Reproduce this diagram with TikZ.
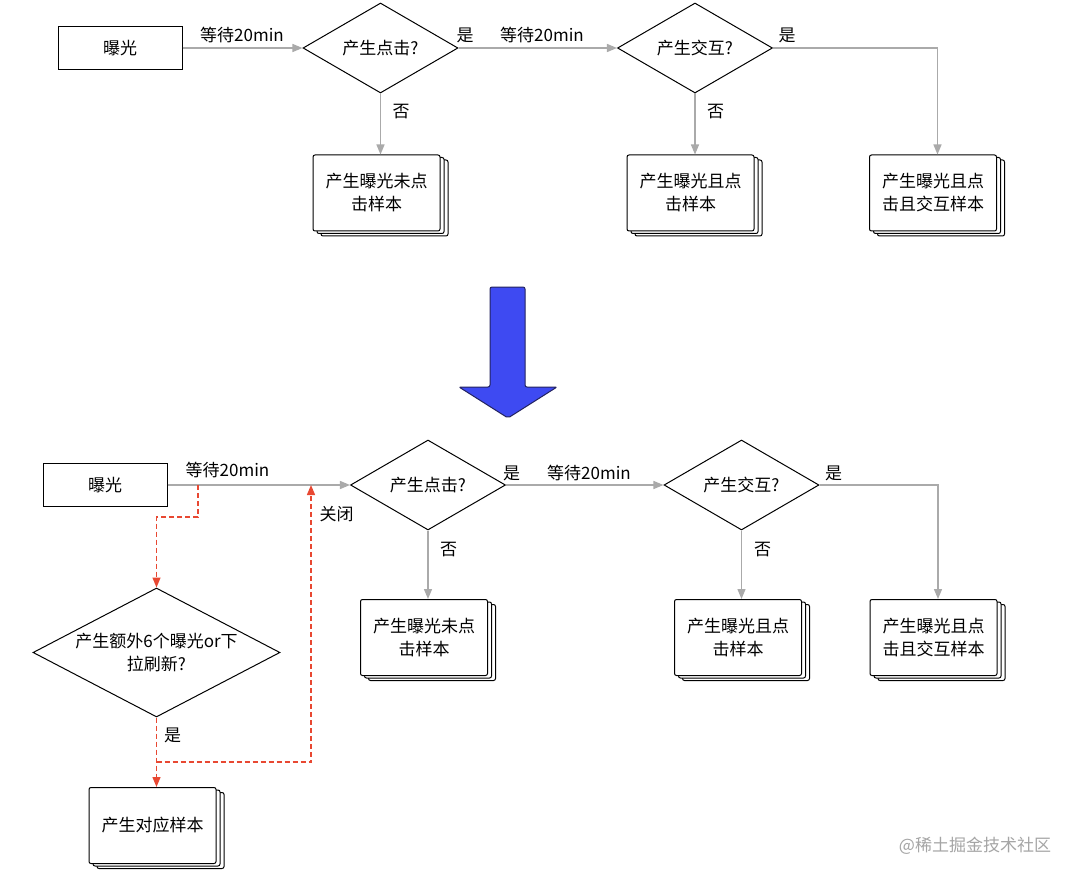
\documentclass[tikz,border=0pt]{standalone}
\usepackage{fontspec}
\setmainfont{Noto Sans CJK SC}
\usetikzlibrary{shapes.geometric,shadows,arrows.meta,positioning}
\definecolor{edgegray}{RGB}{170,170,170}
\definecolor{dashred}{RGB}{232,72,50}
\definecolor{arrowblue}{RGB}{62,74,242}
\definecolor{arrowedge}{RGB}{35,35,95}
\definecolor{markgray}{RGB}{165,165,165}

\begin{document}
\begin{tikzpicture}[x=1pt,y=-1pt,font=\fontsize{17}{23}\selectfont]
\tikzstyle{start}=[rectangle,draw=black,line width=1pt,minimum width=124pt,minimum height=43pt,inner sep=0pt]
\tikzstyle{decision}=[diamond,draw=black,line width=1pt,inner sep=0pt,aspect=1.72,minimum width=155pt,minimum height=90pt,align=center]
\tikzstyle{sample}=[rectangle,draw=black,fill=white,line width=1pt,rounded corners=2pt,minimum width=127pt,minimum height=76pt,align=center,double copy shadow={shadow xshift=4pt,shadow yshift=-2.5pt,draw=black,fill=white}]
\tikzstyle{flow}=[draw=edgegray,line width=1.3pt,-{Triangle[length=10pt,width=8pt]}]
\tikzstyle{extra}=[draw=dashred,line width=1.3pt,dash pattern=on 5pt off 3pt,-{Triangle[length=10pt,width=8pt]}]
\tikzstyle{lbl}=[inner sep=1pt]

\fill[white] (0,0) rectangle (1080,880);
\useasboundingbox (0,0) rectangle (1080,880);

% before
\node [start] (0) at(120,48) {曝光};
\node [decision] (1) at(380.5,48) {产生点击?};
\node [decision] (2) at(695,48) {产生交互?};
\node [sample] (3) at(376.5,193) {产生曝光未点\\击样本};
\node [sample] (4) at(690.5,193) {产生曝光且点\\击样本};
\node [sample] (5) at(933,193) {产生曝光且点\\击且交互样本};

\path [flow] (0) -- (1);
\path [flow] (1) -- (2);
\path [flow] (1.south) -- (1.south |- 3.north);
\path [flow] (2.south) -- (2.south |- 4.north);
\path [flow] (2.east) -| ([xshift=4.5pt]5.north);

\node [lbl] (t0) at(242,35) {等待20min};
\node [lbl] (t1) at(465,35) {是};
\node [lbl] (t2) at(542,35) {等待20min};
\node [lbl] (t3) at(787,35) {是};
\node [lbl] (t4) at(401,112) {否};
\node [lbl] (t5) at(715.5,112) {否};

% big arrow
\draw [fill=arrowblue,draw=arrowedge,line width=1pt,rounded corners=2pt]
  (490,287) -- (525,287) -- (525,387) -- (557,387) -- (508,418) -- (459,387) -- (490,387) -- cycle;

% after
\node [start] (6) at(105,485) {曝光};
\node [decision] (7) at(428,485) {产生点击?};
\node [decision] (8) at(741.5,485) {产生交互?};
\node [sample] (9) at(424,637.5) {产生曝光未点\\击样本};
\node [sample] (10) at(738,637.5) {产生曝光且点\\击样本};
\node [sample] (11) at(933.5,637.5) {产生曝光且点\\击且交互样本};
\node [decision,aspect=1.9,minimum width=247pt,minimum height=129pt] (12) at(156.5,652.5) {产生额外6个曝光or下\\拉刷新?};
\node [sample] (13) at(152.5,825.5) {产生对应样本};

\coordinate (c0) at(198,485);
\coordinate (c1) at(311,485);
\coordinate (c2) at(156.5,762);

\path [flow] (6) -- (7);
\path [flow] (7) -- (8);
\path [flow] (7.south) -- (7.south |- 9.north);
\path [flow] (8.south) -- (8.south |- 10.north);
\path [flow] (8.east) -| ([xshift=4.5pt]11.north);

\path [extra] (c0) -- ++(0,32) -| (12.north);
\path [extra] (12.south) -- (12.south |- 13.north);
\path [extra] (c2) -| (c1);

\node [lbl] (t6) at(227.5,469.5) {等待20min};
\node [lbl] (t7) at(511.5,473) {是};
\node [lbl] (t8) at(589,473) {等待20min};
\node [lbl] (t9) at(833.5,473) {是};
\node [lbl] (t10) at(448.5,550) {否};
\node [lbl] (t11) at(762.5,550) {否};
\node [lbl] (t12) at(336.5,514.5) {关闭};
\node [lbl] (t13) at(172.5,735) {是};

\node [text=markgray,font=\fontsize{17}{17}\selectfont] (wm) at(975,846) {@稀土掘金技术社区};
\end{tikzpicture}
\end{document}
